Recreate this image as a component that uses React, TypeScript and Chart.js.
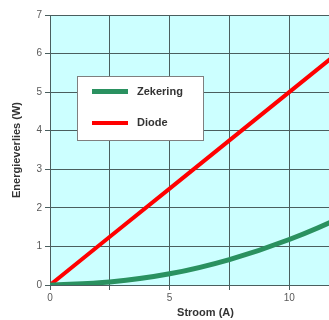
import React, { useEffect, useRef } from "react";
import { Chart, registerables } from "chart.js";

Chart.register(...registerables);

const currents = [0, 2.5, 5, 7.5, 10, 12.5, 15];
const zekering = [0, 0.08, 0.29, 0.66, 1.18, 1.85, 2.65];
const diode = [0, 1.25, 2.5, 3.75, 5, 6.25, 7.5];
const seriesNames = ["Zekering", "Diode"];
const seriesColors = ["#2a9160", "#ff0000"];
const xTitle = "Stroom (A)";
const yTitle = "Energieverlies (W)";

const FONT = "'Liberation Sans', Arial, sans-serif";
const GRID = "#4a5e5e";

const bgPlugin = {
  id: "plotBg",
  beforeDraw(chart: any) {
    const { ctx, chartArea: a } = chart;
    ctx.save();
    ctx.fillStyle = "#ccffff";
    ctx.fillRect(a.left, a.top, a.right - a.left, a.bottom - a.top);
    ctx.restore();
  },
};

const legendPlugin = {
  id: "boxLegend",
  afterDatasetsDraw(chart: any) {
    const { ctx, scales } = chart;
    const x0 = scales.x.left + 27;
    const y0 = scales.y.top + 61;
    const w = 126;
    const h = 64;
    ctx.save();
    ctx.fillStyle = "#ffffff";
    ctx.fillRect(x0, y0, w, h);
    ctx.strokeStyle = "#7f7f7f";
    ctx.lineWidth = 1;
    ctx.strokeRect(x0 + 0.5, y0 + 0.5, w, h);
    chart.data.datasets.forEach((ds: any, i: number) => {
      const cy = y0 + 15.5 + i * 31.5;
      ctx.strokeStyle = ds.borderColor;
      ctx.lineWidth = ds.borderWidth;
      ctx.beginPath();
      ctx.moveTo(x0 + 15, cy);
      ctx.lineTo(x0 + 51, cy);
      ctx.stroke();
      ctx.fillStyle = "#333333";
      ctx.font = "bold 11px " + FONT;
      ctx.textBaseline = "middle";
      ctx.textAlign = "left";
      ctx.fillText(ds.label, x0 + 60, cy);
    });
    ctx.restore();
  },
};

export default function App() {
  const ref = useRef<HTMLCanvasElement>(null);
  useEffect(() => {
    if (!ref.current) return;
    const chart = new Chart(ref.current, {
      type: "line",
      data: {
        datasets: [
          {
            label: seriesNames[0],
            data: currents.map((c, i) => ({ x: c, y: zekering[i] })),
            borderColor: seriesColors[0],
            borderWidth: 5,
            pointRadius: 0,
            cubicInterpolationMode: "monotone",
          },
          {
            label: seriesNames[1],
            data: currents.map((c, i) => ({ x: c, y: diode[i] })),
            borderColor: seriesColors[1],
            borderWidth: 4,
            pointRadius: 0,
            tension: 0,
          },
        ],
      },
      options: {
        animation: false,
        responsive: true,
        maintainAspectRatio: false,
        layout: { padding: { left: 0, top: 15, right: 4, bottom: 0 } },
        plugins: { legend: { display: false }, tooltip: { enabled: false } },
        scales: {
          x: {
            type: "linear",
            min: 0,
            max: 13,
            afterFit: (s: any) => {
              s.height = 35;
            },
            ticks: {
              stepSize: 2.5,
              autoSkip: false,
              maxRotation: 0,
              color: "#595959",
              font: { family: FONT, size: 10 },
              padding: 2,
              callback: (v: any) => (Number(v) % 5 === 0 ? String(v) : ""),
            },
            grid: { color: GRID, lineWidth: 1, tickLength: 5, drawTicks: true },
            border: { color: GRID, width: 1 },
            title: {
              display: true,
              text: xTitle,
              color: "#333333",
              font: { family: FONT, size: 11, weight: "bold" },
              padding: { top: 0, bottom: 0 },
            },
          },
          y: {
            type: "linear",
            min: 0,
            max: 7,
            afterFit: (s: any) => {
              s.width = 50;
            },
            ticks: {
              stepSize: 1,
              color: "#595959",
              font: { family: FONT, size: 10 },
              padding: 3,
            },
            grid: { color: GRID, lineWidth: 1, tickLength: 5 },
            border: { color: GRID, width: 1 },
            title: {
              display: true,
              text: yTitle,
              color: "#333333",
              font: { family: FONT, size: 11, weight: "bold" },
              padding: { top: 10, bottom: 0 },
            },
          },
        },
      },
      plugins: [bgPlugin, legendPlugin],
    } as any);
    return () => chart.destroy();
  }, []);
  return (
    <div style={{ position: "fixed", left: 0, top: 0, width: 329, height: 320, overflow: "hidden", background: "#fff" }}>
      <div style={{ position: "absolute", left: 0, top: 0, width: 365, height: 320 }}>
        <canvas ref={ref} />
      </div>
    </div>
  );
}
